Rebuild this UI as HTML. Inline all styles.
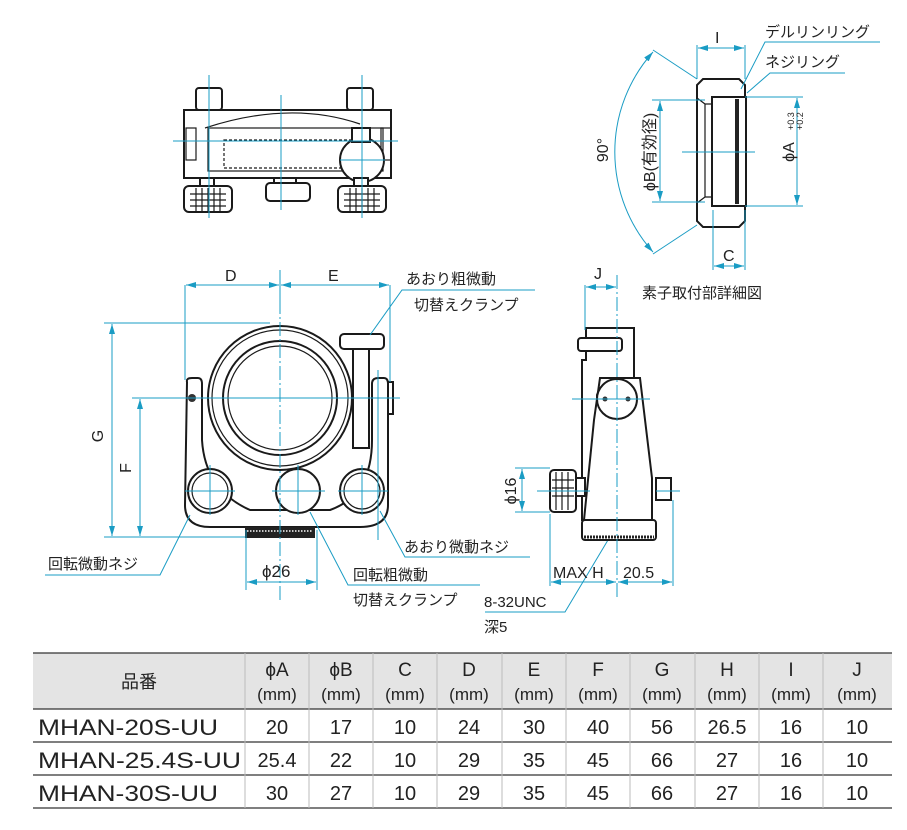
<!DOCTYPE html>
<html><head><meta charset="utf-8"><style>
html,body{margin:0;padding:0;background:#fff;}
svg{display:block;}
text{font-family:"Liberation Sans","Noto Sans CJK JP",sans-serif;fill:#222;}
.c{stroke:#1a9cc4;stroke-width:1;fill:none;}
.k{stroke:#1a1a1a;stroke-width:2;fill:#fff;}
.k1{stroke:#1a1a1a;stroke-width:1.2;fill:none;}
.d{stroke:#1a9cc4;stroke-width:1;fill:none;stroke-dasharray:14 3 2 3;}
</style></head><body>
<svg width="907" height="830" viewBox="0 0 907 830" xmlns="http://www.w3.org/2000/svg">
<defs>
<marker id="a" viewBox="0 0 10 6" refX="10" refY="3" markerWidth="10" markerHeight="6" orient="auto-start-reverse" markerUnits="userSpaceOnUse"><path d="M0,0L10,3L0,6z" fill="#1a9cc4"/></marker>
</defs>

<!-- ============ TOP VIEW ============ -->
<rect class="k" x="196" y="88" width="26" height="22" rx="3"/>
<rect class="k" x="347" y="88" width="26" height="22" rx="3"/>
<path class="k" d="M184,110 H391 V178 H184 Z"/>
<path class="k1" d="M205,128 Q290,100 360,124"/>
<rect class="k1" x="208" y="128" width="175" height="43"/>
<rect class="k1" x="224" y="140" width="140" height="28" stroke-dasharray="3 2"/>
<rect class="k1" x="186" y="128" width="10" height="32"/>
<rect class="k1" x="381" y="128" width="10" height="32"/>
<circle class="k" cx="362" cy="160" r="22"/>
<rect class="k" x="352" y="128" width="18" height="14"/>
<rect class="k" x="200" y="178" width="14" height="8"/>
<rect class="k" x="354" y="178" width="14" height="8"/>
<rect class="k" x="184" y="186" width="48" height="26" rx="5"/>
<rect class="k" x="338" y="186" width="48" height="26" rx="5"/>
<rect class="k" x="274" y="178" width="22" height="5"/>
<rect class="k" x="266" y="183" width="44" height="18" rx="4"/>
<g class="k1" stroke-width="0.8">
<path d="M190,194H226M190,200H226M190,206H226M196,188V212M202,188V212M208,188V212M214,188V212M220,188V212"/>
<path d="M344,194H380M344,200H380M344,206H380M350,188V212M356,188V212M362,188V212M368,188V212M374,188V212"/>
</g>
<path class="c" d="M209,75V218M281,95V210M362,75V218M173,141H398M340,160H385"/>

<!-- ============ FRONT VIEW ============ -->
<path class="k" d="M187,382 Q186,378 192,378 H198 Q202,378 202,384 V440 Q205,490 250,510 H330 Q372,495 372,440 V384 Q372,378 378,378 H384 Q388,378 388,384 V505 Q388,527 360,527 H210 Q185,527 185,505 Z"/>
<rect class="k" x="388" y="382" width="5" height="32"/>
<circle class="k" cx="280" cy="398" r="72"/>
<circle class="k1" cx="280" cy="398" r="68"/>
<circle class="k" cx="280" cy="398" r="57"/>
<circle class="k1" cx="280" cy="398" r="52"/>
<rect class="k" x="353" y="348" width="16" height="100"/>
<rect class="k" x="340" y="334" width="44" height="15" rx="4"/>
<circle cx="192" cy="398" r="4" fill="#333"/>
<circle class="k" cx="210" cy="491" r="22"/><circle class="k1" cx="210" cy="491" r="18"/>
<circle class="k" cx="362" cy="491" r="22"/><circle class="k1" cx="362" cy="491" r="18"/>
<circle class="k" cx="298" cy="491" r="22" stroke-width="2.5"/>
<rect x="245" y="527" width="70" height="11" fill="#222"/>
<path d="M247,531H313" stroke="#fff" stroke-width="1.5" stroke-dasharray="1.5 1.5"/>
<path class="d" d="M280,300V600"/>
<path class="c" d="M135,398H400M185,491H235M272,491H325M338,491H388M210,465V515M298,465V515M362,465V515M378,370V540"/>
<path class="c" d="M185,285V380M390,285V382M280,270V300"/>
<path class="c" marker-start="url(#a)" marker-end="url(#a)" d="M186,285H279"/>
<path class="c" marker-start="url(#a)" marker-end="url(#a)" d="M281,285H389"/>
<text x="225" y="281" font-size="16">D</text>
<text x="328" y="281" font-size="16">E</text>
<path class="c" d="M104,323H270M104,537H245M132,398H200"/>
<path class="c" marker-start="url(#a)" marker-end="url(#a)" d="M112,324V536"/>
<path class="c" marker-start="url(#a)" marker-end="url(#a)" d="M140,399V536"/>
<text transform="translate(103,436) rotate(-90)" font-size="16" text-anchor="middle">G</text>
<text transform="translate(131,468) rotate(-90)" font-size="16" text-anchor="middle">F</text>
<path class="c" d="M246,530V590M317,530V590"/>
<path class="c" marker-start="url(#a)" marker-end="url(#a)" d="M247,582H316"/>
<text x="262" y="577" font-size="17">ϕ26</text>

<text x="406" y="284" font-size="15">あおり粗微動</text>
<text x="414" y="310" font-size="15">切替えクランプ</text>
<path class="c" d="M535,290H402L370,335"/>
<text x="404" y="552" font-size="15">あおり微動ネジ</text>
<path class="c" d="M380,511L405,557H530"/>
<text x="48" y="569" font-size="15">回転微動ネジ</text>
<path class="c" d="M45,575H160L190,515"/>
<text x="353" y="580" font-size="15">回転粗微動</text>
<text x="353" y="605" font-size="15">切替えクランプ</text>
<path class="c" d="M310,512L348,585H480"/>
<text x="484" y="607" font-size="15">8-32UNC</text>
<text x="484" y="632" font-size="15">深5</text>
<path class="c" d="M485,612H565L608,540"/>

<!-- ============ SIDE VIEW ============ -->
<path class="k" d="M586,328H634V378H604L597,395V520H582V360H586Z"/>
<rect class="k" x="578" y="338" width="44" height="13" rx="3"/>
<path class="k" d="M600,378H640L652,478V520H584L594,420Z"/>
<circle class="k" cx="617" cy="399" r="20"/>
<circle cx="605" cy="399" r="2.5" fill="#333"/><circle cx="628" cy="399" r="2.5" fill="#333"/>
<rect class="k" x="582" y="520" width="74" height="20" rx="3"/>
<path d="M584,537H654" stroke="#222" stroke-width="3" stroke-dasharray="2 1"/>
<rect class="k" x="575" y="478" width="10" height="18"/>
<rect class="k" x="550" y="470" width="26" height="42" rx="4"/>
<path class="k1" d="M556,472V510M562,472V510M568,472V510M552,480H574M552,488H574M552,496H574"/>
<rect class="k" x="656" y="478" width="15" height="22"/>
<path class="d" d="M617,275V600"/>
<path class="c" d="M585,285V330M537,491H590M572,399H650M656,491H680"/>
<path class="c" marker-start="url(#a)" marker-end="url(#a)" d="M586,287H616"/>
<text x="594" y="279" font-size="16">J</text>
<path class="c" d="M515,468H550M515,512H550"/>
<path class="c" marker-start="url(#a)" marker-end="url(#a)" d="M522,469V511"/>
<text transform="translate(516,491) rotate(-90)" font-size="16" text-anchor="middle">ϕ16</text>
<path class="c" d="M550,514V586M673,500V586"/>
<path class="c" marker-start="url(#a)" marker-end="url(#a)" d="M551,582H616"/>
<path class="c" marker-start="url(#a)" marker-end="url(#a)" d="M618,582H672"/>
<text x="553" y="578" font-size="16">MAX H</text>
<text x="623" y="578" font-size="16">20.5</text>

<!-- ============ DETAIL VIEW ============ -->
<path class="k" d="M703,79H739L745,85V221L739,227H703L697,221V85Z"/>
<path class="k1" d="M697,98L705,104H745M697,203L705,197H745M705,104V197"/>
<rect class="k" x="712" y="97" width="34" height="109"/>
<rect x="735" y="99" width="4" height="105" fill="#222"/>
<path class="c" d="M697,45V79M745,45V79M713,210V270M745,210V270"/>
<path class="c" marker-start="url(#a)" marker-end="url(#a)" d="M698,48H744"/>
<path class="c" marker-start="url(#a)" marker-end="url(#a)" d="M714,266H744"/>
<text x="715" y="43" font-size="16">I</text>
<text x="723" y="261" font-size="16">C</text>
<path class="c" d="M652,100H705M652,202H705M745,97H803M745,206H803M682,152H755"/>
<path class="c" marker-start="url(#a)" marker-end="url(#a)" d="M660,101V201"/>
<path class="c" marker-start="url(#a)" marker-end="url(#a)" d="M797,98V205"/>
<text transform="translate(655,152) rotate(-90)" font-size="16" text-anchor="middle">ϕB(有効径)</text>
<text transform="translate(794,152) rotate(-90)" font-size="16" text-anchor="middle">ϕA</text>
<text transform="translate(794,130) rotate(-90)" font-size="9">+0.3</text>
<text transform="translate(803,130) rotate(-90)" font-size="9">+0.2</text>
<path class="c" d="M653,50L697,79M653,254L697,225"/>
<path class="c" marker-start="url(#a)" marker-end="url(#a)" d="M653,52A150,150 0 0 0 653,252"/>
<text transform="translate(608,150) rotate(-90)" font-size="16" text-anchor="middle">90°</text>
<text x="765" y="37" font-size="15">デルリンリング</text>
<text x="765" y="67" font-size="15">ネジリング</text>
<path class="c" d="M880,42H765L741,89M845,73H770L747,93"/>
<text x="642" y="298" font-size="15">素子取付部詳細図</text>

<!-- ============ TABLE ============ -->
<rect x="33" y="653" width="859" height="56" fill="#e4e4e4"/>
<g stroke="#333" stroke-width="1.2">
<path d="M33,653H892M33,709H892M33,742H892M33,775H892M33,808H892"/>
</g>
<g stroke="#bbb" stroke-width="1">
<path d="M245,653V808M309,653V808M373,653V808M437,653V808M502,653V808M566,653V808M630,653V808M695,653V808M759,653V808M823,653V808"/>
</g>
<g font-size="18" text-anchor="middle">
<text x="139" y="688">品番</text>
<g font-size="19">
<text x="277" y="676">ϕA</text><text x="341" y="676">ϕB</text><text x="405" y="676">C</text><text x="469" y="676">D</text><text x="534" y="676">E</text><text x="598" y="676">F</text><text x="662" y="676">G</text><text x="727" y="676">H</text><text x="791" y="676">I</text><text x="857" y="676">J</text>
</g>
<g font-size="17">
<text x="277" y="700">(mm)</text><text x="341" y="700">(mm)</text><text x="405" y="700">(mm)</text><text x="469" y="700">(mm)</text><text x="534" y="700">(mm)</text><text x="598" y="700">(mm)</text><text x="662" y="700">(mm)</text><text x="727" y="700">(mm)</text><text x="791" y="700">(mm)</text><text x="857" y="700">(mm)</text>
</g>
<g font-size="20">
<text x="277" y="734">20</text><text x="341" y="734">17</text><text x="405" y="734">10</text><text x="469" y="734">24</text><text x="534" y="734">30</text><text x="598" y="734">40</text><text x="662" y="734">56</text><text x="727" y="734">26.5</text><text x="791" y="734">16</text><text x="857" y="734">10</text>
<text x="277" y="767">25.4</text><text x="341" y="767">22</text><text x="405" y="767">10</text><text x="469" y="767">29</text><text x="534" y="767">35</text><text x="598" y="767">45</text><text x="662" y="767">66</text><text x="727" y="767">27</text><text x="791" y="767">16</text><text x="857" y="767">10</text>
<text x="277" y="800">30</text><text x="341" y="800">27</text><text x="405" y="800">10</text><text x="469" y="800">29</text><text x="534" y="800">35</text><text x="598" y="800">45</text><text x="662" y="800">66</text><text x="727" y="800">27</text><text x="791" y="800">16</text><text x="857" y="800">10</text>
</g>
</g>
<g font-size="22" fill="#222">
<text x="38" y="735" textLength="180" lengthAdjust="spacingAndGlyphs">MHAN-20S-UU</text>
<text x="38" y="768" textLength="203" lengthAdjust="spacingAndGlyphs">MHAN-25.4S-UU</text>
<text x="38" y="801" textLength="180" lengthAdjust="spacingAndGlyphs">MHAN-30S-UU</text>
</g>
</svg>
</body></html>
